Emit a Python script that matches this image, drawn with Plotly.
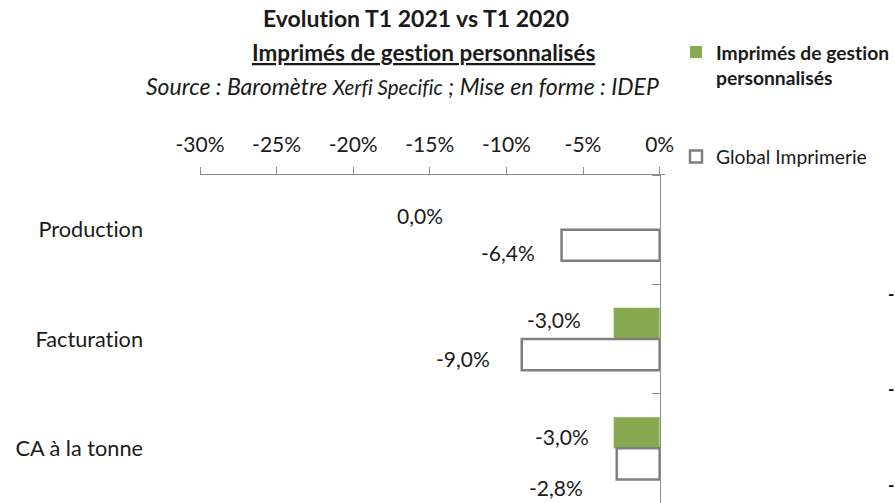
import plotly.graph_objects as go

categories = ["Production", "Facturation", "CA à la tonne"]
imprimes_values = [0.0, -3.0, -3.0]
global_values = [-6.4, -9.0, -2.8]
tick_values = [-30, -25, -20, -15, -10, -5, 0]
tick_labels = ["-30%", "-25%", "-20%", "-15%", "-10%", "-5%", "0%"]
series_names = ["Imprimés de gestion<br>personnalisés", "Global Imprimerie"]

FONT = "Lato, 'Open Sans', sans-serif"
GREEN = "#87AA50"
GRAY = "#8C8C8C"
TXT = "#1a1a1a"
X_RANGE = [-30, 0.35]
NOLIG = "font-variant-ligatures:none;font-feature-settings:'liga' 0,'dlig' 0"

W, H = 895, 503
ML, MR, MT, MB = 200, 230, 175, 0
PW, PH = W - ML - MR, H - MT - MB


def px(x):
    return (x - ML) / PW


def py(y):
    return (H - MB - y) / PH


def fmt(v):
    return f"{v:.1f}".replace(".", ",") + "%"


def nolig(s):
    return f"<span style=\"{NOLIG}\">{s}</span>"


fig = go.Figure()
fig.add_trace(go.Bar(
    y=categories, x=imprimes_values, orientation="h",
    name="<b>" + "<br>".join(nolig(p) for p in series_names[0].split("<br>")) + "</b>",
    width=0.285, offset=-0.285, marker=dict(color=GREEN, line=dict(width=0)),
    legend="legend", yaxis="y", hoverinfo="skip",
))
fig.add_trace(go.Bar(
    y=categories, x=global_values, orientation="h", name=nolig(series_names[1]),
    width=0.285, offset=0.0, marker=dict(color="white", line=dict(color="#7F7F7F", width=2.5)),
    legend="legend2", yaxis="y2", hoverinfo="skip",
))

# data labels (xshift/yshift in pixels relative to bar end / category centre)
label_shifts_imprimes = [(-215, 14), (-31, 20), (-23, 12)]
label_shifts_global = [(-25, -23), (-30, -19), (-32, -39)]
annotations = []
for vals, shifts in ((imprimes_values, label_shifts_imprimes), (global_values, label_shifts_global)):
    for cat, v, (dx, dy) in zip(categories, vals, shifts):
        annotations.append(dict(
            x=v, y=cat, xref="x", yref="y", text=fmt(v), showarrow=False,
            xanchor="right", yanchor="middle", xshift=dx, yshift=dy,
            font=dict(family=FONT, size=21, color=TXT),
        ))

# titles
annotations += [
    dict(x=px(415.5), y=py(18), xref="paper", yref="paper",
         text="<b>" + nolig("Evolution T1 2021 vs T1 2020") + "</b>",
         showarrow=False, xanchor="center", yanchor="middle", font=dict(family=FONT, size=23, color=TXT)),
    dict(x=px(423), y=py(52), xref="paper", yref="paper",
         text="<b><u>" + nolig("Imprimés de gestion personnalisés") + "</u></b>",
         showarrow=False, xanchor="center", yanchor="middle", font=dict(family=FONT, size=22.5, color=TXT)),
    dict(x=px(402), y=py(86), xref="paper", yref="paper",
         text="<i>Source : Baromètre <span style=\"font-size:20.5px;" + NOLIG + "\">Xerfi Specific</span>"
              " ; Mise en forme : IDEP</i>",
         showarrow=False, xanchor="center", yanchor="middle", font=dict(family=FONT, size=23, color=TXT)),
]
# fragments at right edge
for yy in (293, 388, 484):
    annotations.append(dict(x=px(896), y=py(yy), xref="paper", yref="paper", text="<b>-</b>", showarrow=False,
                            xanchor="right", yanchor="middle", font=dict(family=FONT, size=17, color="#000")))

fig.update_layout(
    width=W, height=H,
    margin=dict(l=ML, r=MR, t=MT, b=MB, autoexpand=False),
    paper_bgcolor="white", plot_bgcolor="white",
    barmode="overlay",
    font=dict(family=FONT, size=21, color=TXT),
    xaxis=dict(
        range=X_RANGE, side="top", tickvals=tick_values, ticktext=tick_labels,
        ticks="outside", ticklen=7, tickcolor=GRAY, showline=True, linecolor=GRAY, linewidth=1,
        showgrid=False, zeroline=False, ticklabelstandoff=7, automargin=False,
        tickfont=dict(family=FONT, size=21, color=TXT), fixedrange=True,
    ),
    yaxis=dict(
        categoryorder="array", categoryarray=categories, autorange="reversed",
        tickvals=categories, ticktext=[nolig(c) for c in categories],
        showline=False, ticks="", showgrid=False, zeroline=False, automargin=False,
        ticklabelstandoff=56, tickfont=dict(family=FONT, size=21.7, color=TXT), fixedrange=True,
    ),
    yaxis2=dict(
        overlaying="y", matches="y", anchor="free",
        position=(0 - X_RANGE[0]) / (X_RANGE[1] - X_RANGE[0]), side="left",
        categoryorder="array", categoryarray=categories, automargin=False,
        showline=True, linecolor=GRAY, linewidth=1, ticks="outside", ticklen=8, tickcolor=GRAY,
        tickson="boundaries", showticklabels=False, showgrid=False, zeroline=False, fixedrange=True,
    ),
    legend=dict(x=px(676), y=py(33), xanchor="left", yanchor="top", valign="top",
                font=dict(family=FONT, size=19.3, color=TXT), bgcolor="rgba(0,0,0,0)"),
    legend2=dict(x=px(676), y=py(157), xanchor="left", yanchor="middle",
                 font=dict(family=FONT, size=19.3, color=TXT), bgcolor="rgba(0,0,0,0)"),
    annotations=annotations,
    showlegend=True,
)

fig.write_html("out.html", config={"displayModeBar": False},
               post_script="document.body.style.margin='0px';")
